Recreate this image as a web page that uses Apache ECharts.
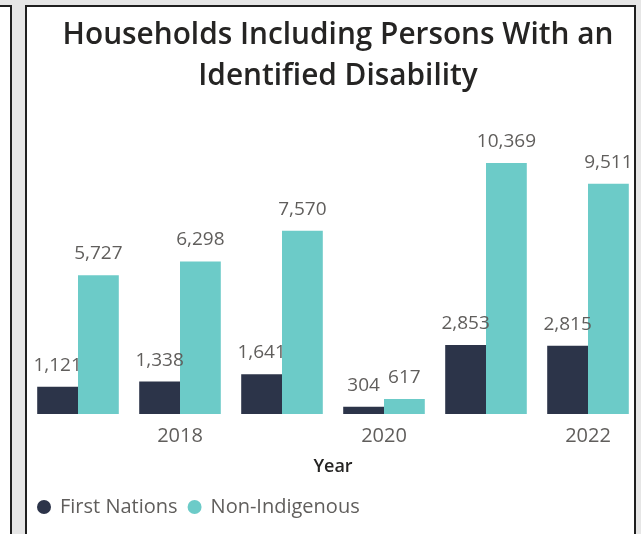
<!DOCTYPE html>
<html>
<head>
<meta charset="utf-8">
<script src="https://cdn.jsdelivr.net/npm/echarts@6/dist/echarts.min.js"></script>
<style>
  html, body { margin: 0; padding: 0; background: #e6e6e6; width: 641px; height: 534px; overflow: hidden; }
  .panel { position: absolute; background: #fff; border: 2px solid #1f1f1f; box-sizing: border-box; }
  #chart { position: absolute; left: 0; top: 0; width: 641px; height: 534px; }
</style>
</head>
<body>
<div class="panel" style="left:-10px; top:5px; width:22px; height:560px;"></div>
<div class="panel" style="left:25px; top:5px; width:611px; height:560px;"></div>
<div id="chart"></div>
<script>
// chart data
const years = ['2017', '2018', '2019', '2020', '2021', '2022']
const firstNations = [1121, 1338, 1641, 304, 2853, 2815]
const nonIndigenous = [5727, 6298, 7570, 617, 10369, 9511]
const seriesNames = ['First Nations', 'Non-Indigenous']

const FONT = '"Segoe UI", "Open Sans", sans-serif'
const labelFmt = p => p.value.toLocaleString('en-US')

const chart = echarts.init(document.getElementById('chart'))

chart.setOption({
  textStyle: { fontFamily: FONT },
  title: {
    text: 'Households Including Persons With an\nIdentified Disability',
    left: 333,
    top: 10,
    textAlign: 'center',
    textStyle: {
      fontFamily: FONT,
      fontSize: 29.8,
      fontWeight: 600,
      color: '#252423',
      lineHeight: 41
    }
  },
  // legend at the bottom-left
  legend: {
    data: seriesNames,
    left: 32,
    top: 492,
    icon: 'circle',
    itemWidth: 22,
    itemHeight: 14,
    itemGap: 10,
    textStyle: { fontFamily: FONT, fontSize: 20, color: '#605E5C' }
  },
  grid: {
    left: 27,
    right: 2,
    top: 123.5,
    bottom: 120
  },
  xAxis: {
    type: 'category',
    data: years,
    name: 'Year',
    nameLocation: 'middle',
    nameGap: 44,
    nameTextStyle: { fontFamily: FONT, fontSize: 18, fontWeight: 600, color: '#252423' },
    axisLine: { show: false },
    axisTick: { show: false },
    axisLabel: {
      interval: (i) => i % 2 === 1,
      margin: 12,
      fontFamily: FONT,
      fontSize: 20,
      color: '#605E5C'
    }
  },
  yAxis: {
    type: 'value',
    min: 0,
    max: 12000,
    show: false
  },
  series: [
    {
      name: seriesNames[0],
      type: 'bar',
      data: firstNations,
      barGap: '0%',
      barCategoryGap: '20%',
      itemStyle: { color: '#2C3449' },
      label: {
        show: true,
        position: 'top',
        distance: 12,
        formatter: labelFmt,
        fontFamily: FONT,
        fontSize: 19,
        color: '#605E5C'
      }
    },
    {
      name: seriesNames[1],
      type: 'bar',
      data: nonIndigenous,
      barGap: '0%',
      barCategoryGap: '20%',
      itemStyle: { color: '#6CCBC8' },
      label: {
        show: true,
        position: 'top',
        distance: 12,
        formatter: labelFmt,
        fontFamily: FONT,
        fontSize: 19,
        color: '#605E5C'
      }
    }
  ]
})
</script>
</body>
</html>
